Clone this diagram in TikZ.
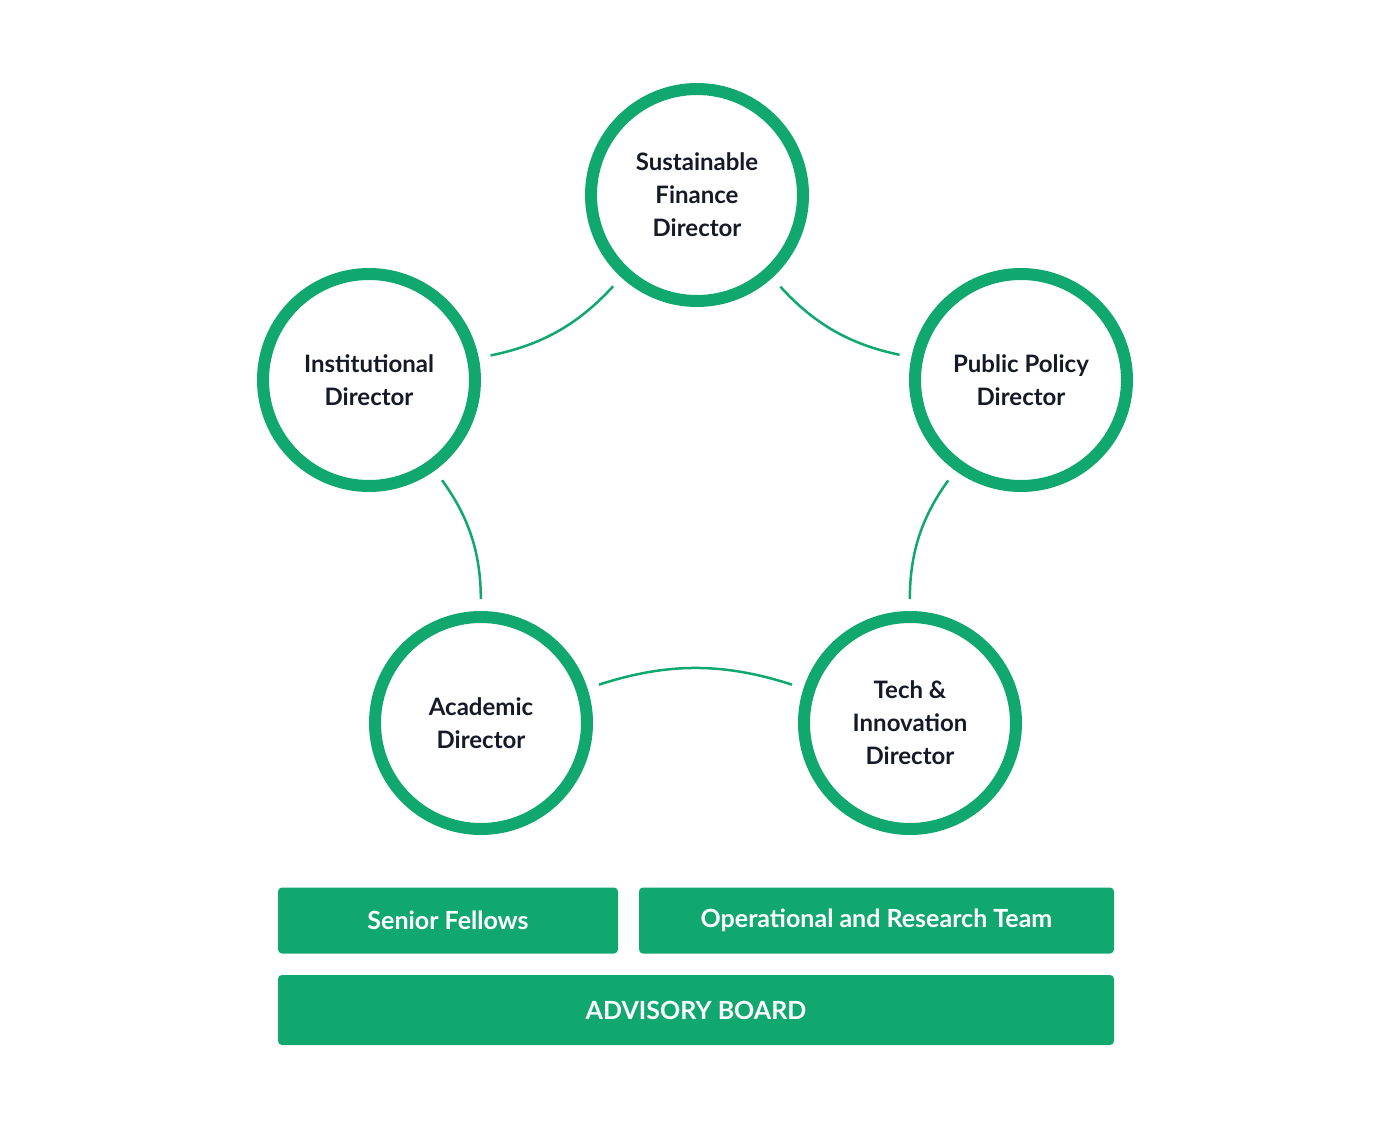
\documentclass[tikz,border=0pt]{standalone}
\usepackage{fontspec}
\setmainfont{Lato}
\usetikzlibrary{positioning}
\definecolor{sgreen}{RGB}{16,168,110}
\definecolor{navy}{RGB}{22,26,40}

\begin{document}
\begin{tikzpicture}[
    x=1pt, y=-1pt,
    director/.style={circle, draw=sgreen, line width=12pt, fill=white, minimum size=212pt, inner sep=0pt, align=center, text=navy, font=\fontsize{24}{33}\selectfont\bfseries},
    bar/.style={rectangle, rounded corners=4pt, fill=sgreen, text=white, font=\fontsize{25}{30}\selectfont\bfseries, minimum height=66pt, inner sep=0pt},
    link/.style={draw=sgreen, line width=2.5pt, shorten <=12pt, shorten >=12pt}
]
    \useasboundingbox[fill=white] (0,0) rectangle (1397,1126);

    \node[director] (fin) at (697,195) {Sustainable\\Finance\\Director};
    \node[director] (policy) at (1021,380) {Public Policy\\Director};
    \node[director] (tech) at (910,723) {Tech \&\\Innovation\\Director};
    \node[director] (acad) at (481,723) {Academic\\Director};
    \node[director] (inst) at (369,380) {Institutional\\Director};

    \draw[link] (fin) to[bend right=18] (policy);
    \draw[link] (policy) to[bend right=18] (tech);
    \draw[link] (tech) to[bend right=18] (acad);
    \draw[link] (acad) to[bend right=18] (inst);
    \draw[link] (inst) to[bend right=18] (fin);

    \node[bar, minimum width=340pt] (fellows) at (448,920.5) {Senior Fellows};
    \node[bar, minimum width=475pt] (team) at (876.5,920.5) {Operational and Research Team};
    \node[bar, minimum width=836pt, minimum height=70pt] (board) at (696,1010) {ADVISORY BOARD};
\end{tikzpicture}
\end{document}
